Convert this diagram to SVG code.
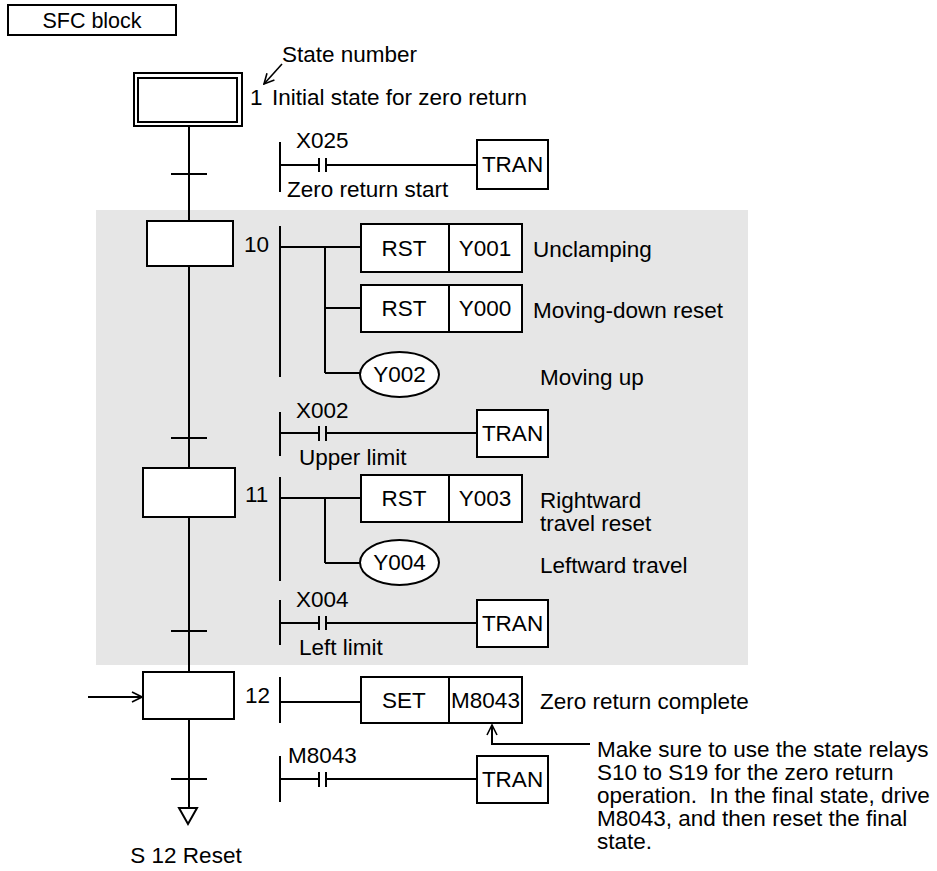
<svg xmlns="http://www.w3.org/2000/svg" width="937" height="871" viewBox="0 0 937 871">
<style>
  text { font-family: "Liberation Sans", Arial, sans-serif; font-size: 22.5px; fill: #000; }
  .c { text-anchor: middle; }
  .sm { font-size: 21.5px; }
  .ln { stroke: #000; stroke-width: 2; fill: none; }
  .bx { stroke: #000; stroke-width: 2; fill: #fff; }
</style>
<defs>
  <marker id="open" viewBox="0 0 12 12" refX="11" refY="6" markerWidth="12" markerHeight="12" markerUnits="userSpaceOnUse" orient="auto">
    <path d="M1,1 L11,6 L1,11" fill="none" stroke="#000" stroke-width="1.6"/>
  </marker>
</defs>
<rect width="937" height="871" fill="#fff"/>
<rect id="shade" x="96" y="210" width="652" height="455" fill="#e6e6e6"/>

<g id="sfc-block">
  <rect x="8" y="5" width="168" height="30" class="bx"/>
  <text x="92" y="28" class="c sm">SFC block</text>
</g>

<g id="connectors">
  <line x1="189" y1="126" x2="189" y2="808" class="ln"/>
  <line x1="171" y1="174" x2="207" y2="174" class="ln"/>
  <line x1="171" y1="438" x2="207" y2="438" class="ln"/>
  <line x1="171" y1="631" x2="207" y2="631" class="ln"/>
  <line x1="171" y1="779" x2="207" y2="779" class="ln"/>
  <line x1="88" y1="697" x2="142" y2="697" class="ln" marker-end="url(#open)"/>
  <line x1="282" y1="64" x2="264" y2="84" stroke="#000" stroke-width="1.6" marker-end="url(#open)"/>
  <polyline points="590,744 492,744 492,725" class="ln" marker-end="url(#open)"/>
</g>

<g id="state-1">
  <rect x="134" y="73" width="108" height="53" class="bx"/>
  <rect x="138" y="78" width="99" height="44" class="bx"/>
  <text x="250" y="105">1</text>
  <text x="272" y="105">Initial state for zero return</text>
  <text x="282" y="62">State number</text>
</g>

<g id="tran-x025">
  <line x1="280" y1="142" x2="280" y2="192" class="ln"/>
  <path d="M280,165 H319 M326,165 H477 M319,158 V172 M326,158 V172" class="ln"/>
  <rect x="477" y="140" width="71" height="49" class="bx"/>
  <text x="512.5" y="172" class="c">TRAN</text>
  <text x="296" y="148">X025</text>
  <text x="287" y="197">Zero return start</text>
</g>

<g id="state-10">
  <rect x="147" y="221" width="86" height="45" class="bx"/>
  <text x="244" y="252">10</text>
  <line x1="280" y1="226" x2="280" y2="377" class="ln"/>
  <path d="M280,247 H361 M325,247 V373 M325,308 H361 M325,373 H360" class="ln"/>
  <rect x="361" y="224" width="161" height="48" class="bx"/>
  <line x1="449" y1="224" x2="449" y2="272" class="ln"/>
  <text x="404" y="256" class="c">RST</text>
  <text x="485" y="256" class="c">Y001</text>
  <text x="533" y="257">Unclamping</text>
  <rect x="361" y="285" width="161" height="47" class="bx"/>
  <line x1="449" y1="285" x2="449" y2="332" class="ln"/>
  <text x="404" y="316" class="c">RST</text>
  <text x="485" y="316" class="c">Y000</text>
  <text x="533" y="318">Moving-down reset</text>
  <ellipse cx="399.5" cy="374.5" rx="39.5" ry="22.5" class="bx"/>
  <text x="399.5" y="382" class="c">Y002</text>
  <text x="540" y="385">Moving up</text>
</g>

<g id="tran-x002">
  <line x1="280" y1="412" x2="280" y2="456" class="ln"/>
  <path d="M280,433 H319 M326,433 H477 M319,426 V441 M326,426 V441" class="ln"/>
  <rect x="477" y="410" width="71" height="47" class="bx"/>
  <text x="512.5" y="441" class="c">TRAN</text>
  <text x="296" y="418">X002</text>
  <text x="299" y="465">Upper limit</text>
</g>

<g id="state-11">
  <rect x="143" y="468" width="92" height="49" class="bx"/>
  <text x="245" y="502">11</text>
  <line x1="280" y1="477" x2="280" y2="581" class="ln"/>
  <path d="M280,498 H361 M325,498 V563 M325,563 H360" class="ln"/>
  <rect x="361" y="475" width="161" height="47" class="bx"/>
  <line x1="449" y1="475" x2="449" y2="522" class="ln"/>
  <text x="404" y="506" class="c">RST</text>
  <text x="485" y="506" class="c">Y003</text>
  <text x="540" y="508">Rightward</text>
  <text x="540" y="531">travel reset</text>
  <ellipse cx="399.5" cy="562.5" rx="39.5" ry="22.5" class="bx"/>
  <text x="399.5" y="570" class="c">Y004</text>
  <text x="540" y="573">Leftward travel</text>
</g>

<g id="tran-x004">
  <line x1="280" y1="600" x2="280" y2="645" class="ln"/>
  <path d="M280,623 H319 M326,623 H477 M319,616 V630 M326,616 V630" class="ln"/>
  <rect x="477" y="600" width="71" height="47" class="bx"/>
  <text x="512.5" y="631" class="c">TRAN</text>
  <text x="296" y="607">X004</text>
  <text x="299" y="655">Left limit</text>
</g>

<g id="state-12">
  <rect x="143" y="672" width="91" height="47" class="bx"/>
  <text x="245" y="703">12</text>
  <line x1="280" y1="677" x2="280" y2="723" class="ln"/>
  <line x1="280" y1="702" x2="361" y2="702" class="ln"/>
  <rect x="361" y="677" width="161" height="46" class="bx"/>
  <line x1="449" y1="677" x2="449" y2="723" class="ln"/>
  <text x="404" y="708" class="c">SET</text>
  <text x="485.5" y="708" class="c">M8043</text>
  <text x="540" y="709">Zero return complete</text>
</g>

<g id="note">
  <text x="597" y="757">Make sure to use the state relays</text>
  <text x="597" y="780">S10 to S19 for the zero return</text>
  <text x="597" y="803" style="white-space:pre">operation.  In the final state, drive</text>
  <text x="597" y="826">M8043, and then reset the final</text>
  <text x="597" y="849">state.</text>
</g>

<g id="tran-m8043">
  <line x1="280" y1="756" x2="280" y2="802" class="ln"/>
  <path d="M280,779 H319 M326,779 H477 M319,772 V787 M326,772 V787" class="ln"/>
  <rect x="477" y="756" width="71" height="47" class="bx"/>
  <text x="512.5" y="787" class="c">TRAN</text>
  <text x="288" y="763">M8043</text>
</g>

<g id="reset">
  <path d="M179,808 L197,808 L188,824 Z" class="bx"/>
  <text x="186" y="863" class="c">S 12 Reset</text>
</g>
</svg>
